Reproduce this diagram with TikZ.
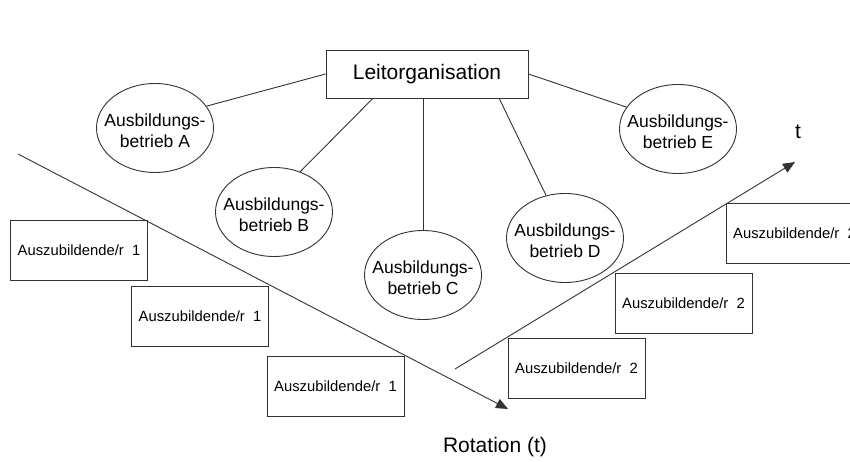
\documentclass[tikz,border=0pt]{standalone}
\usepackage{fontspec}
\setmainfont{Liberation Sans}
\usetikzlibrary{shapes.geometric,arrows.meta,calc}
\begin{document}
\begin{tikzpicture}[x=1pt,y=-1pt,
  ln/.style={draw=black!80,line width=0.9pt},
  orgbox/.style={ln,rectangle,minimum width=202pt,minimum height=48pt,inner sep=0pt,font=\fontsize{21}{25}\selectfont},
  betrieb/.style={ln,ellipse,minimum width=117pt,minimum height=89pt,inner sep=0pt},
  btext/.style={align=center,inner sep=0pt,font=\fontsize{17.5}{21}\selectfont},
  azubi/.style={ln,rectangle,minimum width=137pt,minimum height=60pt,inner sep=0pt,font=\fontsize{14.8}{17}\selectfont},
  arr/.style={ln,-{Triangle[length=12pt,width=10pt]}},
  big/.style={inner sep=0pt,font=\fontsize{21}{25}\selectfont}
]
\clip (0,0) rectangle (850,462);
\fill[white] (0,0) rectangle (850,462);

% main organisation
\node[orgbox] (L) at (427,74) {Leitorganisation};

% companies
\node[betrieb] (A) at (155,128) {};
\node[btext] (At) at (155,131) {Ausbildungs-\\betrieb A};
\node[betrieb] (B) at (274,212) {};
\node[btext] (Bt) at (274,215) {Ausbildungs-\\betrieb B};
\node[betrieb] (C) at (423,275) {};
\node[btext] (Ct) at (423,278) {Ausbildungs-\\betrieb C};
\node[betrieb] (D) at (565,238) {};
\node[btext] (Dt) at (565,241) {Ausbildungs-\\betrieb D};
\node[betrieb] (E) at (678,129) {};
\node[btext] (Et) at (678,132) {Ausbildungs-\\betrieb E};

% connectors
\draw[ln] (L.west) -- (A.23);
\draw[ln] ($(L.south west)!0.233!(L.south east)$) -- (B.57);
\draw[ln] (C.north) -- (C.north |- L.south);
\draw[ln] ($(L.south west)!0.856!(L.south east)$) -- (D.114);
\draw[ln] (L.east) -- (E.157);

% trainees
\node[azubi] (Z1) at (79,250) {Auszubildende/r\ \ 1};
\node[azubi] (Z2) at (200,316) {Auszubildende/r\ \ 1};
\node[azubi] (Z3) at (335.5,386) {Auszubildende/r\ \ 1};
\node[azubi] (Z4) at (576.5,368) {Auszubildende/r\ \ 2};
\node[azubi] (Z5) at (683.5,303) {Auszubildende/r\ \ 2};
\node[azubi] (Z6) at (794.5,233.5) {Auszubildende/r\ \ 2};

% time axes
\coordinate (r0) at (18,154);
\coordinate (r1) at (508,409);
\coordinate (t0) at (455,369);
\coordinate (t1) at (795,162);
\draw[arr] (r0) -- (r1);
\draw[arr] (t0) -- (t1);

\node[big] (rot) at (495,447) {Rotation (t)};
\node[big] (tl) at (798,132) {t};
\end{tikzpicture}
\end{document}
